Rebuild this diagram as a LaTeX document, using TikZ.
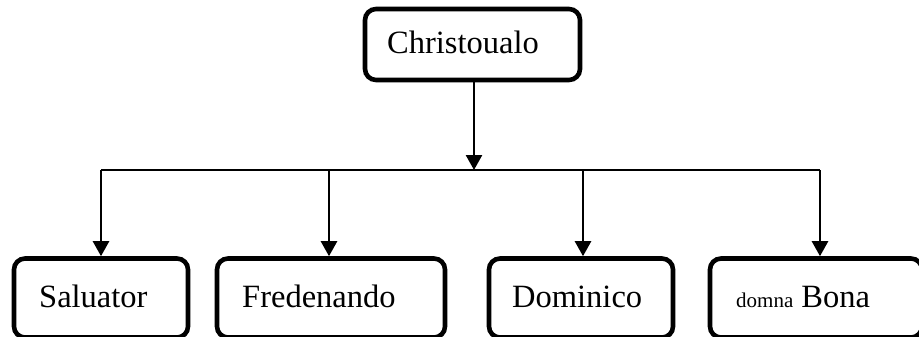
\documentclass[tikz,border=0pt]{standalone}
\usepackage{fontspec}
\setmainfont{Liberation Serif}
\usetikzlibrary{arrows.meta}
\begin{document}
\begin{tikzpicture}[x=1pt,y=1pt,
  box/.style={draw, line width=4.6pt, rounded corners=11pt, inner sep=0pt},
  lbl/.style={anchor=base west, inner sep=0pt, font=\fontsize{32.5}{38}\selectfont},
  arr/.style={line width=2.5pt, -{Triangle[length=15pt,width=16pt]}},
  bus/.style={line width=1.7pt}]
\useasboundingbox (0,0) rectangle (919,-337);
\clip (0,0) rectangle (919,-337);
% boxes
\node[box, minimum width=215pt, minimum height=71pt] (top) at (472.5,-44.5) {};
\node[box, minimum width=174pt, minimum height=79pt] (s) at (101,-298) {};
\node[box, minimum width=228pt, minimum height=79pt] (f) at (331,-298) {};
\node[box, minimum width=184pt, minimum height=79pt] (d) at (581,-298) {};
\node[box, minimum width=212pt, minimum height=79pt] (b) at (816,-298) {};
% labels
\node[lbl] (toptxt) at (387,-54) {Christoualo};
\node[lbl] (stxt) at (39,-307) {Saluator};
\node[lbl] (ftxt) at (242,-307) {Fredenando};
\node[lbl] (dtxt) at (512,-307) {Dominico};
\node[lbl] (btxt) at (736,-307) {{\fontsize{21}{24}\selectfont domna} Bona};
% bus
\coordinate (bm) at (474,-170);
\coordinate (b1) at (101,-170);
\coordinate (b2) at (329,-170);
\coordinate (b3) at (583,-170);
\coordinate (b4) at (820,-170);
\draw[bus] (b1) -- (b4);
\draw[arr] (474,-44.5 |- top.south) -- (bm);
\draw[arr] (b1) -- (b1 |- s.north);
\draw[arr] (b2) -- (b2 |- f.north);
\draw[arr] (b3) -- (b3 |- d.north);
\draw[arr] (b4) -- (b4 |- b.north);
\end{tikzpicture}
\end{document}
